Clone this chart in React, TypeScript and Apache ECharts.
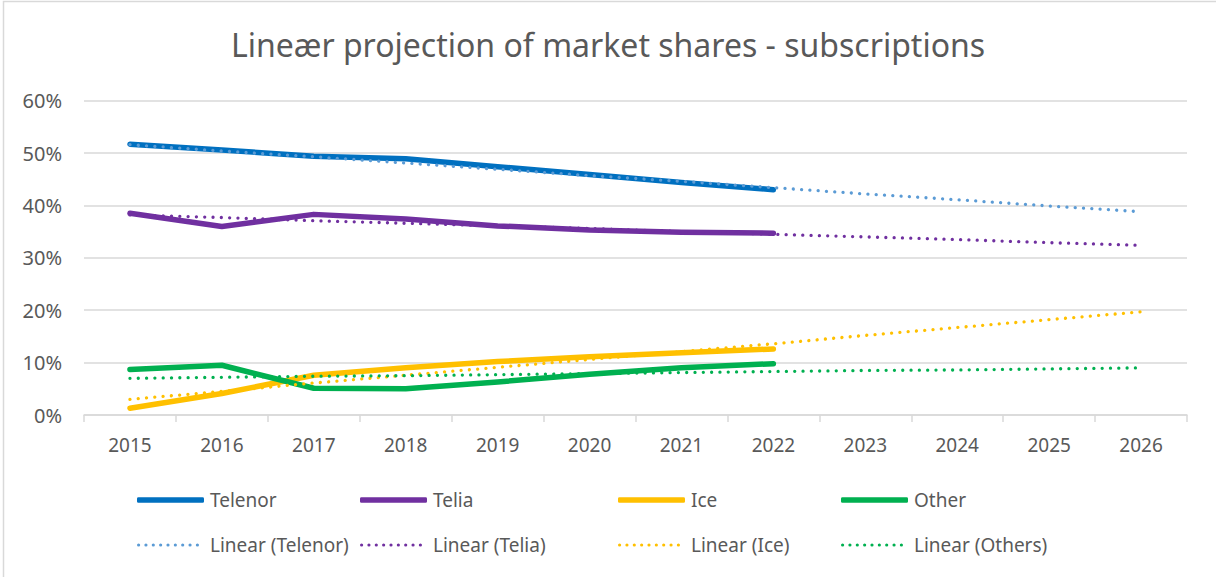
import React, { useEffect, useRef } from "react";
import * as echarts from "echarts";

const years = ["2015", "2016", "2017", "2018", "2019", "2020", "2021", "2022", "2023", "2024", "2025", "2026"];
const telenor = [51.7, 50.6, 49.4, 48.9, 47.4, 45.9, 44.4, 43.0, null, null, null, null];
const telia = [38.5, 36.0, 38.3, 37.4, 36.1, 35.3, 34.9, 34.7, null, null, null, null];
const ice = [1.3, 4.1, 7.6, 9.0, 10.2, 11.1, 11.9, 12.6, null, null, null, null];
const other = [8.7, 9.5, 5.1, 5.0, 6.3, 7.8, 9.0, 9.8, null, null, null, null];
const trendTelenor = [51.6, 50.4, 49.3, 48.1, 46.9, 45.7, 44.6, 43.4, 42.2, 41.1, 39.9, 38.8];
const trendTelia = [38.2, 37.7, 37.1, 36.6, 36.1, 35.6, 35.0, 34.5, 34.0, 33.5, 32.9, 32.4];
const trendIce = [3.0, 4.5, 6.1, 7.6, 9.1, 10.6, 12.1, 13.6, 15.2, 16.7, 18.2, 19.7];
const trendOthers = [7.0, 7.2, 7.4, 7.5, 7.7, 7.9, 8.1, 8.3, 8.5, 8.6, 8.8, 9.0];
const yTicks = { min: 0, max: 60, interval: 10 };

const FONT = "'Noto Sans', sans-serif";
const TEXT = "#595959";
const GRID = "#d9d9d9";

// row of 9 small dots, used as legend icon of the trend lines
const dotR = 1.65;
let dotPath = "path://";
for (let i = 0; i < 9; i++) {
  const cx = dotR + i * 7.6;
  dotPath += `M${cx - dotR},${dotR} a${dotR},${dotR} 0 1,0 ${2 * dotR},0 a${dotR},${dotR} 0 1,0 ${-2 * dotR},0 Z `;
}

export default function App() {
  const ref = useRef<HTMLDivElement>(null);
  useEffect(() => {
    const chart = echarts.init(ref.current!, null, { renderer: "svg" });
    const solid = (name: string, data: any[], color: string) => ({
      name,
      type: "line",
      data,
      symbol: "none",
      lineStyle: { color, width: 5.5, cap: "round", join: "round" },
      itemStyle: { color },
      z: 2,
    });
    const dotted = (name: string, data: any[], color: string) => ({
      name,
      type: "line",
      data,
      symbol: "none",
      lineStyle: { color, width: 3.3, type: [0.01, 8.3], cap: "round" },
      itemStyle: { color },
      z: 3,
    });
    const legendItem = (left: number, centerY: number, name: string, isDotted: boolean) => {
      const h = isDotted ? 3.3 : 5.5;
      return {
        left,
        top: centerY - 11,
        padding: 0,
        itemWidth: isDotted ? 62 : 67,
        itemHeight: h,
        itemGap: 0,
        icon: isDotted ? dotPath : "roundRect",
        textStyle: {
          fontFamily: FONT,
          fontSize: 19,
          color: TEXT,
          lineHeight: 22,
          padding: [0, 0, 0, isDotted ? 6 : 1],
        },
        data: [name],
      };
    };
    chart.setOption({
      animation: false,
      backgroundColor: "#ffffff",
      title: {
        text: "Lineær projection of market shares - subscriptions",
        left: "center",
        top: 23,
        textStyle: { fontFamily: FONT, fontSize: 32, fontWeight: "normal", color: TEXT },
      },
      graphic: [
        {
          type: "rect",
          shape: { x: 3.5, y: 1.5, width: 1400, height: 700 },
          style: { fill: "none", stroke: GRID, lineWidth: 1.5 },
          silent: true,
        },
      ],
      grid: { left: 84, right: 29, top: 100.7, bottom: 162 },
      legend: [
        legendItem(137, 500, "Telenor", false),
        legendItem(360, 500, "Telia", false),
        legendItem(618, 500, "Ice", false),
        legendItem(841, 500, "Other", false),
        legendItem(137, 545, "Linear (Telenor)", true),
        legendItem(360, 545, "Linear (Telia)", true),
        legendItem(618, 545, "Linear (Ice)", true),
        legendItem(841, 545, "Linear (Others)", true),
      ],
      xAxis: {
        type: "category",
        data: years,
        boundaryGap: true,
        axisLine: { lineStyle: { color: GRID, width: 1.5 } },
        axisTick: { show: true, length: 7, lineStyle: { color: GRID, width: 1.5 } },
        axisLabel: { fontFamily: FONT, fontSize: 19, color: TEXT, margin: 20 },
      },
      yAxis: {
        type: "value",
        min: yTicks.min,
        max: yTicks.max,
        interval: yTicks.interval,
        axisLine: { show: false },
        axisTick: { show: false },
        splitLine: { lineStyle: { color: GRID, width: 1.5 } },
        axisLabel: { fontFamily: FONT, fontSize: 20, color: TEXT, margin: 22, formatter: "{value}%" },
      },
      series: [
        solid("Telenor", telenor, "#0070C0"),
        solid("Telia", telia, "#7030A0"),
        solid("Ice", ice, "#FFC000"),
        solid("Other", other, "#00B050"),
        dotted("Linear (Telenor)", trendTelenor, "#5B9BD5"),
        dotted("Linear (Telia)", trendTelia, "#7030A0"),
        dotted("Linear (Ice)", trendIce, "#FFC000"),
        dotted("Linear (Others)", trendOthers, "#00B050"),
      ],
    });
    return () => chart.dispose();
  }, []);
  return (
    <div
      ref={ref}
      style={{ position: "absolute", left: 0, top: 0, width: 1216, height: 577 }}
    />
  );
}
